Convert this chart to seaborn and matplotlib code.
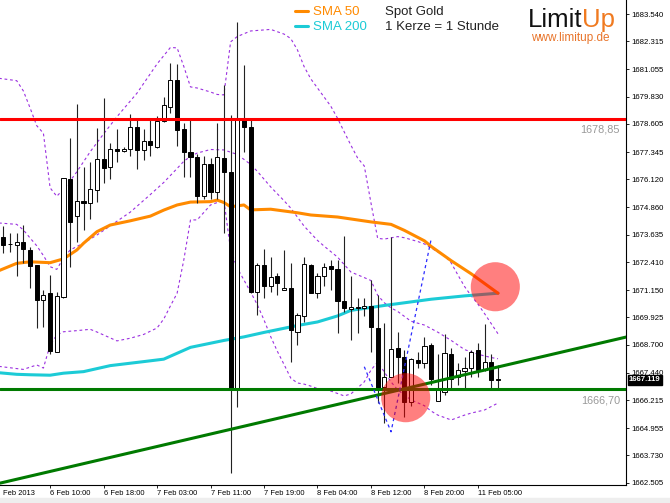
import numpy as np
import matplotlib
matplotlib.use("Agg")
import matplotlib.pyplot as plt
from matplotlib.patches import Rectangle
import seaborn as sns

# hourly candles, index 0 = 6 Feb 2013 03:00 ... index 74 = 11 Feb 08:00
opens = [1673.55, 1673.22, 1673.17, 1673.32, 1672.95, 1672.28, 1670.71, 1671.01, 1668.39, 1670.85,
         1676.14, 1674.48, 1675.16, 1675.05, 1675.64, 1677.02, 1676.66, 1677.48, 1677.40, 1677.47,
         1678.48, 1677.44, 1677.84, 1677.59, 1678.75, 1679.38, 1680.58, 1678.37, 1677.36, 1677.14,
         1675.37, 1676.81, 1675.54, 1677.07, 1676.46, 1666.74, 1678.86, 1678.48, 1671.08, 1672.28,
         1671.33, 1671.78, 1671.15, 1671.23, 1669.28, 1669.99, 1672.28, 1671.03, 1671.78, 1672.23,
         1672.08, 1670.66, 1670.29, 1670.40, 1670.36, 1670.45, 1669.46, 1666.81, 1667.26, 1668.54,
         1668.16, 1666.14, 1668.01, 1667.86, 1668.69, 1666.19, 1666.59, 1668.28, 1667.26, 1667.53,
         1667.64, 1668.46, 1667.56, 1667.94, 1667.12]
highs = [1674.03, 1673.73, 1673.73, 1674.08, 1673.10, 1672.28, 1671.15, 1671.83, 1671.05, 1676.20,
         1677.96, 1679.49, 1676.66, 1676.89, 1678.41, 1679.79, 1677.77, 1678.37, 1677.56, 1679.04,
         1678.78, 1678.37, 1678.86, 1678.96, 1679.83, 1681.33, 1681.30, 1678.64, 1678.86, 1677.26,
         1677.17, 1677.07, 1678.64, 1680.36, 1679.01, 1683.20, 1681.25, 1678.86, 1672.38, 1672.98,
         1672.65, 1671.93, 1672.95, 1672.38, 1670.14, 1672.62, 1672.30, 1671.90, 1672.35, 1672.50,
         1672.50, 1673.58, 1671.78, 1670.81, 1670.78, 1671.60, 1670.93, 1669.69, 1673.55, 1669.28,
         1668.46, 1668.09, 1668.39, 1669.03, 1668.76, 1668.28, 1669.18, 1668.54, 1667.89, 1668.13,
         1668.46, 1668.79, 1669.63, 1668.28, 1667.79]
lows = [1672.83, 1672.87, 1671.78, 1672.38, 1671.26, 1669.46, 1669.51, 1668.27, 1668.39, 1670.80,
        1672.20, 1673.32, 1673.85, 1674.33, 1675.12, 1675.97, 1676.12, 1676.91, 1677.33, 1677.17,
        1676.60, 1676.99, 1677.17, 1677.51, 1678.71, 1679.09, 1677.62, 1676.24, 1676.24, 1675.05,
        1675.22, 1675.22, 1675.22, 1673.70, 1662.93, 1665.92, 1677.36, 1671.00, 1670.03, 1670.78,
        1671.08, 1670.93, 1671.15, 1667.91, 1668.69, 1669.73, 1671.00, 1670.78, 1671.33, 1671.15,
        1669.21, 1670.18, 1668.91, 1669.21, 1669.99, 1668.39, 1666.07, 1665.17, 1667.24, 1666.97,
        1665.47, 1665.95, 1667.64, 1667.64, 1666.89, 1666.19, 1666.44, 1666.70, 1666.89, 1666.74,
        1667.26, 1667.26, 1667.54, 1666.70, 1666.70]
closes = [1673.17, 1673.20, 1673.30, 1672.98, 1672.23, 1670.71, 1670.92, 1668.43, 1670.89, 1676.18,
          1674.22, 1675.15, 1675.05, 1675.67, 1677.02, 1676.62, 1677.47, 1677.41, 1677.49, 1678.48,
          1677.44, 1677.83, 1677.66, 1678.75, 1679.44, 1680.58, 1678.34, 1677.36, 1677.14, 1675.37,
          1676.81, 1675.54, 1677.14, 1676.46, 1666.74, 1678.86, 1678.48, 1671.08, 1672.28, 1671.33,
          1671.75, 1671.45, 1671.23, 1669.36, 1670.03, 1672.31, 1671.03, 1671.78, 1672.20, 1672.08,
          1670.66, 1670.33, 1670.40, 1670.33, 1670.45, 1669.51, 1666.74, 1667.24, 1668.49, 1668.16,
          1666.11, 1668.04, 1667.86, 1668.65, 1667.15, 1666.67, 1668.31, 1667.15, 1667.56, 1667.67,
          1668.39, 1667.56, 1667.94, 1667.12, 1667.119]

# indicator lines (candle index, price)
sma50_idx = [-1, 2, 4, 7, 9, 11, 12, 14, 16, 19, 22, 24, 26, 28, 31, 32, 33, 34, 36, 37,
             40, 44, 46, 50, 55, 58, 60, 63, 64, 67, 70, 74]
sma50_val = [1671.98, 1672.35, 1672.42, 1672.38, 1672.55, 1672.95, 1673.25, 1673.77, 1674.07, 1674.26,
             1674.47, 1674.74, 1674.97, 1675.10, 1675.12, 1675.19, 1675.08, 1674.89, 1674.97, 1674.75,
             1674.78, 1674.62, 1674.52, 1674.43, 1674.21, 1674.10, 1673.83, 1673.36, 1673.11, 1672.47,
             1671.88, 1671.01]
sma200_idx = [-1, 2, 4, 7, 9, 12, 16, 21, 24, 28, 33, 36, 39, 44, 47, 50, 52, 57, 60, 64, 69, 74]
sma200_val = [1667.45, 1667.37, 1667.35, 1667.33, 1667.42, 1667.49, 1667.76, 1667.94, 1668.05, 1668.58,
              1668.89, 1669.05, 1669.25, 1669.56, 1669.72, 1669.99, 1670.24, 1670.46, 1670.58, 1670.74,
              1670.89, 1671.01]
upper_idx = [-1, 2, 3, 4, 5, 6, 7, 8, 9, 10, 11, 13, 15, 17, 20, 23, 25, 26, 27, 28,
             29, 31, 32, 33, 34, 35, 37, 40, 42, 43, 44, 45, 46, 48, 49, 50, 51, 52, 53, 54,
             55, 56, 57, 59, 60, 62, 63, 65, 66, 67, 68, 69, 70, 71, 72, 73, 74]
upper_val = [1680.67, 1680.55, 1680.09, 1679.33, 1678.53, 1678.19, 1675.74, 1675.36, 1675.68, 1676.05,
             1676.46, 1677.36, 1678.16, 1678.93, 1679.99, 1681.30, 1682.04, 1682.02, 1681.19, 1680.27,
             1680.22, 1680.04, 1679.93, 1679.91, 1682.29, 1682.53, 1682.78, 1682.85, 1682.64, 1682.44,
             1681.93, 1681.18, 1680.63, 1679.81, 1679.40, 1678.86, 1678.25, 1677.65, 1677.08, 1676.72,
             1675.06, 1673.47, 1673.44, 1673.55, 1673.50, 1673.33, 1673.22, 1672.86, 1672.69, 1672.37,
             1671.83, 1671.31, 1670.89, 1670.52, 1670.09, 1669.64, 1669.19]
mid_idx = [-1, 2, 3, 4, 5, 6, 7, 8, 9, 10, 12, 14, 17, 19, 22, 24, 26, 27, 28, 29,
           31, 33, 35, 37, 38, 40, 42, 43, 45, 47, 48, 50, 52, 54, 55, 56, 57, 58, 59, 61,
           63, 65, 67, 69, 71, 73, 74]
mid_val = [1674.17, 1674.10, 1673.85, 1673.49, 1673.14, 1672.70, 1672.20, 1672.08, 1672.59, 1672.95,
           1673.26, 1673.62, 1674.24, 1674.65, 1675.44, 1675.98, 1676.61, 1676.93, 1677.15, 1677.30,
           1677.46, 1677.44, 1677.24, 1676.79, 1676.48, 1675.78, 1675.16, 1674.83, 1674.02, 1673.38,
           1673.12, 1672.63, 1671.96, 1671.71, 1671.58, 1670.92, 1670.58, 1670.35, 1670.19, 1669.75,
           1669.58, 1669.26, 1668.89, 1668.48, 1668.27, 1668.12, 1668.07]
lower_idx = [-1, 3, 5, 6, 7, 8, 9, 11, 13, 14, 17, 19, 21, 23, 24, 25, 26, 27, 28, 29,
             31, 33, 34, 35, 36, 37, 38, 39, 40, 41, 42, 43, 44, 45, 46, 47, 49, 51, 52, 53,
             54, 55, 56, 57, 58, 59, 61, 63, 64, 65, 67, 69, 70, 72, 74]
lower_val = [1667.74, 1667.59, 1667.79, 1667.65, 1668.69, 1669.13, 1669.28, 1669.33, 1669.39, 1669.27,
             1668.87, 1668.99, 1669.16, 1669.45, 1669.85, 1670.44, 1671.01, 1672.50, 1674.30, 1674.30,
             1674.97, 1675.19, 1672.95, 1672.14, 1671.60, 1671.06, 1670.49, 1669.81, 1669.06, 1668.40,
             1667.81, 1667.20, 1666.98, 1666.93, 1666.84, 1666.73, 1666.62, 1666.40, 1666.49, 1666.76,
             1667.03, 1667.56, 1667.92, 1667.47, 1667.03, 1666.67, 1666.22, 1665.96, 1665.72, 1665.54,
             1665.32, 1665.54, 1665.63, 1665.77, 1666.08]
swing_idx = [54, 58, 64]
swing_val = [1667.71, 1664.79, 1673.43]

resistance = 1678.85
support = 1666.70
last_price = 1667.119
trend_idx = [0, 74]
trend_val = [1662.52, 1667.70]
circle_idx = [60.2, 73.6]
circle_val = [1666.32, 1671.30]

price_ticks = [1683.540, 1682.315, 1681.055, 1679.830, 1678.605, 1677.345, 1676.120, 1674.860,
               1673.635, 1672.410, 1671.150, 1669.925, 1668.700, 1667.440, 1666.215, 1664.955,
               1663.730, 1662.505]
first_label = "Feb 2013"
time_idx = [7, 15, 23, 31, 39, 47, 55, 63, 71]
time_labels = ["6 Feb 10:00", "6 Feb 18:00", "7 Feb 03:00", "7 Feb 11:00", "7 Feb 19:00",
               "8 Feb 04:00", "8 Feb 12:00", "8 Feb 20:00", "11 Feb 05:00"]

sns.set_theme(style="white")
plt.rcParams["font.family"] = ["Liberation Sans", "DejaVu Sans"]

W, H = 670, 503
fig = plt.figure(figsize=(W / 100, H / 100), dpi=100)
ax = fig.add_axes([0, 18 / H, 626 / W, 485 / H])
ax.set_xlim(-0.494, 93.15)
ax.set_ylim(1662.402, 1684.17)

# bollinger-style bands and the blue swing line
dots = (0, (2.5, 2.5))
for xs, ys in [(upper_idx, upper_val), (mid_idx, mid_val), (lower_idx, lower_val)]:
    sns.lineplot(x=xs, y=ys, ax=ax, color="#9b30e0", linewidth=0.8, linestyle=dots, zorder=1.5)
sns.lineplot(x=swing_idx, y=swing_val, ax=ax, color="#2b2bff", linewidth=0.9, linestyle=dots, zorder=5.5)

# moving averages
sns.lineplot(x=sma200_idx, y=sma200_val, ax=ax, color="#1ccbd6", linewidth=2.2, zorder=2)
sns.lineplot(x=sma50_idx, y=sma50_val, ax=ax, color="#ff8a00", linewidth=2.2, zorder=2)

# candles
o, h, l, c = (np.array(a) for a in (opens, highs, lows, closes))
idx = np.arange(len(o))
up = c >= o
body = np.maximum(np.abs(c - o), 0.04)
bottom = np.minimum(o, c)
ax.vlines(idx, l, h, color="#222222", lw=0.8, zorder=3)
ax.bar(idx[up], body[up], bottom=bottom[up], width=0.62, color="white",
       edgecolor="black", linewidth=0.7, zorder=4)
ax.bar(idx[~up], body[~up], bottom=bottom[~up], width=0.62, color="black",
       edgecolor="black", linewidth=0.7, zorder=4)

# levels and trend line
ax.axhline(resistance, color="#ff0000", lw=2.2, zorder=5)
ax.axhline(support, color="#007a00", lw=2.2, zorder=5)
ax.axline((trend_idx[0], trend_val[0]), (trend_idx[1], trend_val[1]), color="#007a00", lw=2.2, zorder=5)
ax.scatter(circle_idx, circle_val, s=1250, color="#ff0000", alpha=0.5, edgecolors="none", zorder=6)

for val, txt in [(resistance, "1678,85"), (support, "1666,70")]:
    ax.annotate(txt, xy=(620 / 626, val), xycoords=("axes fraction", "data"),
                xytext=(0, -4.5), textcoords="offset points", ha="right", va="top",
                color="#999999", fontsize=7.8)

# axes styling
for s in ["left", "top"]:
    ax.spines[s].set_visible(False)
for s in ["right", "bottom"]:
    ax.spines[s].set_color("black")
    ax.spines[s].set_linewidth(0.8)

ax.yaxis.tick_right()
ax.set_yticks(price_ticks)
ax.set_yticklabels([f"{v:.3f}" for v in price_ticks])
ax.tick_params(axis="y", right=True, left=False, labelright=True, labelleft=False,
               length=2.5, width=0.6, pad=1.2, labelsize=5.6, colors="black", direction="out")
ax.set_xticks(time_idx)
ax.set_xticklabels(time_labels)
ax.tick_params(axis="x", bottom=True, length=2.5, width=0.6, pad=1.0, labelsize=5.4,
               colors="black", direction="out")
for t in ax.get_xticklabels():
    t.set_ha("left")
ax.annotate(first_label, xy=(0, 0), xycoords="axes fraction",
            xytext=(2, -3.5), textcoords="offset points", ha="left", va="top",
            fontsize=5.4, color="black", annotation_clip=False)

ax.annotate(f"{last_price:.3f}", xy=(1, last_price), xycoords=("axes fraction", "data"),
            xytext=(2.2, 0), textcoords="offset points", ha="left", va="center",
            fontsize=5.6, color="white", fontweight="bold", annotation_clip=False,
            bbox=dict(boxstyle="square,pad=0.2", fc="black", ec="black"))

# legend and header texts
def fx(px):
    return px / W


def fy(py):
    return 1 - py / H


fig.add_artist(plt.Line2D([fx(295), fx(308)], [fy(11), fy(11)], color="#ff8a00", lw=2.2))
fig.add_artist(plt.Line2D([fx(295), fx(308)], [fy(26), fy(26)], color="#1ccbd6", lw=2.2))
fig.text(fx(313), fy(12), "SMA 50", color="#ff8a00", fontsize=9.5, va="center")
fig.text(fx(313), fy(27), "SMA 200", color="#1ccbd6", fontsize=9.5, va="center")
fig.text(fx(385), fy(12), "Spot Gold", color="#222222", fontsize=9.5, va="center")
fig.text(fx(385), fy(27), "1 Kerze = 1 Stunde", color="#222222", fontsize=9.5, va="center")
fig.text(fx(582), fy(27), "Limit", color="#111111", fontsize=18.5, ha="right", va="baseline")
fig.text(fx(582), fy(27), "Up", color="#f07a20", fontsize=18.5, ha="left", va="baseline")
fig.text(fx(570), fy(38), "www.limitup.de", color="#e8742a", fontsize=8.5, ha="center", va="center")

fig.patches.append(Rectangle((0, 0), 1, 5 / H, transform=fig.transFigure,
                             color="#eeeeee", zorder=0))

fig.savefig("out.png", dpi=100)
